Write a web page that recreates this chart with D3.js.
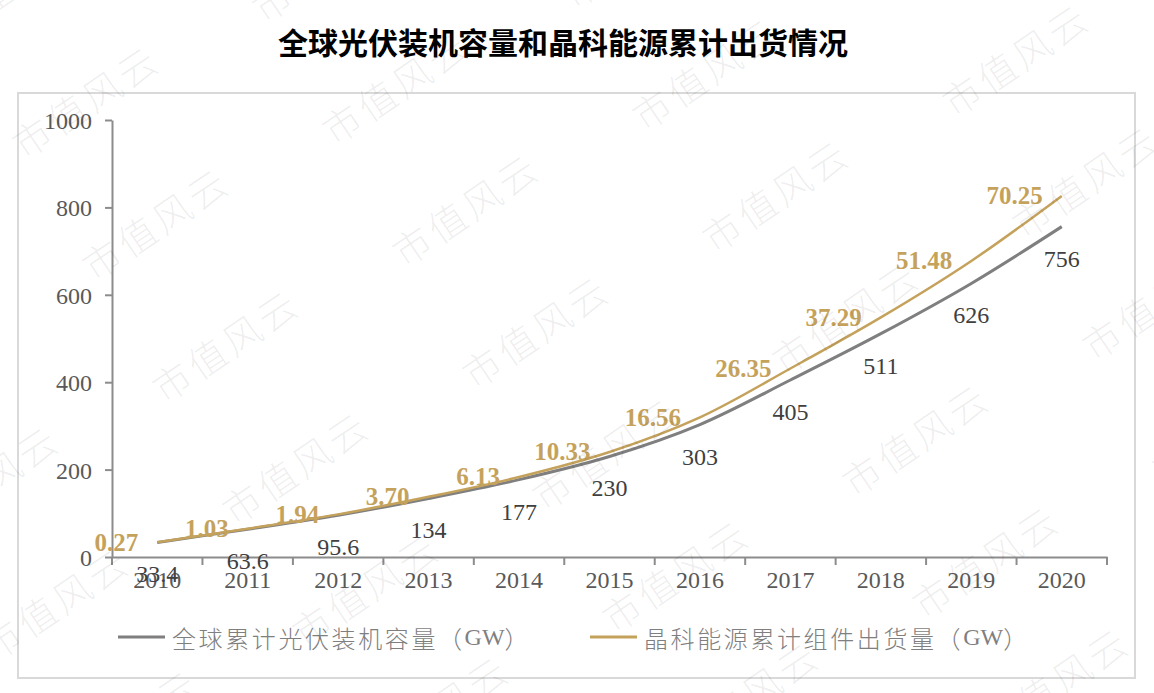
<!DOCTYPE html>
<html lang="zh">
<head>
<meta charset="UTF-8">
<title>全球光伏装机容量和晶科能源累计出货情况</title>
<script src="https://d3js.org/d3.v7.min.js"></script>
<style>
  body { margin: 0; background: #fff; }
  svg { display: block; }
  .serif { font-family: "Liberation Serif", "DejaVu Serif", serif; }
  .cjk { font-family: "Noto Sans CJK SC", "Noto Sans", sans-serif; }
</style>
</head>
<body>
<svg width="1154" height="693"></svg>
<script>
  // 数据
  const years = ["2010", "2011", "2012", "2013", "2014", "2015", "2016", "2017", "2018", "2019", "2020"];
  const globalCap = [33.4, 63.6, 95.6, 134, 177, 230, 303, 405, 511, 626, 756];
  const jinkoShip = [0.27, 1.03, 1.94, 3.70, 6.13, 10.33, 16.56, 26.35, 37.29, 51.48, 70.25];
  const yTicks = [0, 200, 400, 600, 800, 1000];
  const seriesNames = ["全球累计光伏装机容量", "晶科能源累计组件出货量"];

  const grey = "#7f7f7f", gold = "#c5a25c";
  const svg = d3.select("svg");

  // 外框
  svg.append("rect")
    .attr("x", 18).attr("y", 93).attr("width", 1117).attr("height", 585)
    .attr("fill", "none").attr("stroke", "#d9d9d9").attr("stroke-width", 2);

  // 标题
  svg.append("text")
    .attr("class", "cjk")
    .attr("x", 563).attr("y", 41)
    .attr("text-anchor", "middle").attr("dominant-baseline", "central")
    .attr("font-size", 30).attr("font-weight", 700).attr("fill", "#000")
    .text("全球光伏装机容量和晶科能源累计出货情况");

  const x = d3.scaleBand().domain(years).range([112, 1107]);
  const y = d3.scaleLinear().domain([0, 1000]).range([557, 120]);

  // 折线堆叠：晶科线叠加在全球线之上
  const rows = years.map((yr, i) => ({ year: yr, g: globalCap[i], j: jinkoShip[i], top: globalCap[i] + jinkoShip[i] }));

  // 坐标轴
  const yAxis = svg.append("g")
    .attr("transform", "translate(112,0)")
    .call(d3.axisLeft(y).tickValues(yTicks).tickFormat(d3.format("d"))
      .tickSize(7).tickPadding(13).tickSizeOuter(0));
  const xAxis = svg.append("g")
    .attr("transform", "translate(0,557)")
    .call(d3.axisBottom(x).tickSize(0).tickPadding(19));

  // x 轴刻度在分类边界
  xAxis.selectAll(".bound")
    .data(d3.range(years.length + 1))
    .join("line")
    .attr("x1", i => 112 + i * x.step()).attr("x2", i => 112 + i * x.step())
    .attr("y1", 0).attr("y2", 8)
    .attr("stroke", "#8c8c8c").attr("stroke-width", 2);

  [yAxis, xAxis].forEach(a => {
    a.select(".domain").attr("stroke", "#8c8c8c").attr("stroke-width", 2);
    a.selectAll(".tick line").attr("stroke", "#8c8c8c").attr("stroke-width", 2);
    a.selectAll("text").attr("class", "serif").attr("font-size", 24).attr("fill", "#595959");
  });
  xAxis.selectAll(".tick text").attr("dy", "0.5em");
  yAxis.selectAll(".tick text").attr("dy", "0.35em");

  const cx = d => x(d.year) + x.bandwidth() / 2;
  const line = acc => d3.line().x(cx).y(d => y(acc(d))).curve(d3.curveCatmullRom.alpha(0.5));

  svg.append("path").datum(rows)
    .attr("d", line(d => d.g))
    .attr("fill", "none").attr("stroke", grey).attr("stroke-width", 3);
  svg.append("path").datum(rows)
    .attr("d", line(d => d.top))
    .attr("fill", "none").attr("stroke", gold).attr("stroke-width", 2.5);

  // 数据标签
  svg.append("g").selectAll("text").data(rows).join("text")
    .attr("class", "serif")
    .attr("x", cx).attr("y", d => y(d.g) + 32)
    .attr("text-anchor", "middle").attr("dominant-baseline", "central")
    .attr("font-size", 24).attr("fill", "#404040")
    .text(d => d.g);

  svg.append("g").selectAll("text").data(rows).join("text")
    .attr("class", "serif")
    .attr("x", d => cx(d) - 19).attr("y", d => y(d.top))
    .attr("text-anchor", "end").attr("dominant-baseline", "central")
    .attr("font-size", 25).attr("font-weight", 700).attr("fill", gold)
    .text(d => d.j.toFixed(2));

  // 图例
  const legend = svg.append("g");
  const lx = [118, 590];
  [grey, gold].forEach((c, i) => {
    legend.append("line")
      .attr("x1", lx[i]).attr("x2", lx[i] + 47).attr("y1", 637).attr("y2", 637)
      .attr("stroke", c).attr("stroke-width", 3);
    const t = legend.append("text")
      .attr("x", lx[i] + 54).attr("y", 637)
      .attr("dominant-baseline", "central")
      .attr("font-size", 24).attr("fill", "#7f7f7f");
    t.append("tspan").attr("class", "cjk").attr("font-weight", 300).attr("letter-spacing", 2.6).text(seriesNames[i] + "（");
    t.append("tspan").attr("class", "serif").text("GW");
    t.append("tspan").attr("class", "cjk").attr("font-weight", 300).text("）");
  });

  // 水印
  const wm = svg.append("g").attr("pointer-events", "none");
  for (let r = -1; r < 7; r++) {
    for (let c = -1; c < 5; c++) {
      const wx = 85 + c * 310 + r * 70;
      const wy = 100 - c * 14 + r * 122;
      wm.append("text")
        .attr("class", "cjk")
        .attr("transform", `translate(${wx},${wy}) rotate(-34)`)
        .attr("text-anchor", "middle").attr("dominant-baseline", "central")
        .attr("font-size", 38).attr("font-weight", 300)
        .attr("fill", "#000").attr("fill-opacity", 0.07)
        .attr("letter-spacing", 4)
        .text("市值风云");
    }
  }
</script>
</body>
</html>
